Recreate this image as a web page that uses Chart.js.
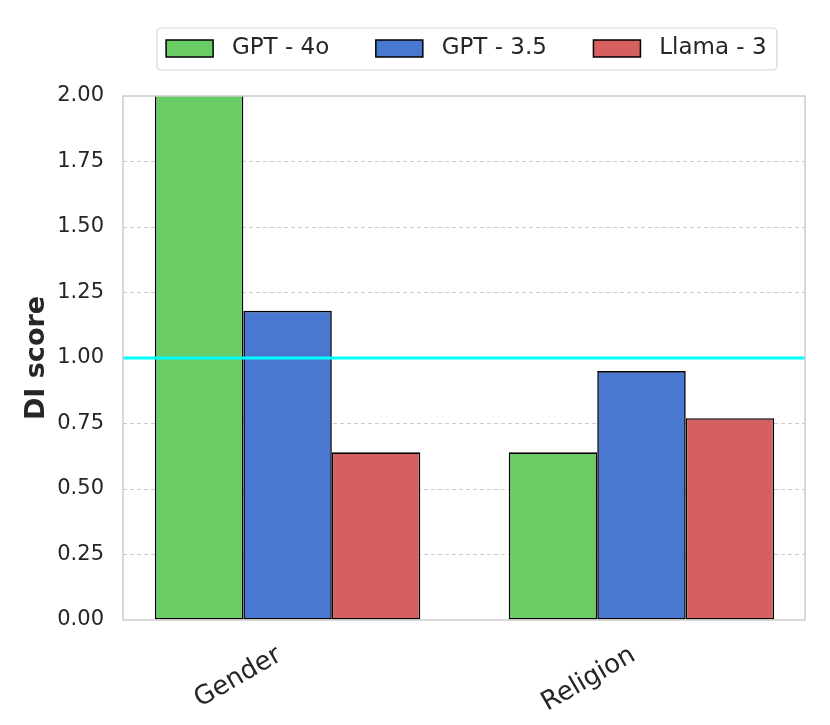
<!DOCTYPE html>
<html>
<head>
<meta charset="utf-8">
<script src="https://cdn.jsdelivr.net/npm/chart.js@4"></script>
<style>
  html, body { margin: 0; padding: 0; background: #ffffff; }
  #wrap { width: 830px; height: 725px; }
</style>
</head>
<body>
<div id="wrap"><canvas id="c" width="830" height="725"></canvas></div>
<script>
const categories = ['Gender', 'Religion'];
const seriesNames = ['GPT - 4o', 'GPT - 3.5', 'Llama - 3'];
const gpt4oValues = [2.05, 0.64];
const gpt35Values = [1.18, 0.95];
const llama3Values = [0.64, 0.77];
const referenceValue = 1.0;
const yTicks = [0, 0.25, 0.5, 0.75, 1.0, 1.25, 1.5, 1.75, 2.0];

const colors = ['#6acc64', '#4878d0', '#d65f5f'];
const textColor = '#262626';
const X_MIN = -0.465, X_MAX = 1.462;

function toPoints(vals) { return vals.map((v, i) => ({ x: i, y: v })); }

const legendFit = {
  id: 'legendFit',
  beforeLayout(chart) {
    const lg = chart.legend;
    if (lg && !lg._patched) {
      const orig = lg.fit;
      lg.fit = function () {
        orig.call(this);
        this.height = 69;
        if (this.lineWidths && this.lineWidths.length) this.lineWidths[0] -= 12;
      };
      lg._patched = true;
    }
  }
};

const framePlugin = {
  id: 'frame',
  afterDatasetsDraw(chart) {
    const { ctx, chartArea: a } = chart;
    ctx.save();
    ctx.strokeStyle = '#cccccc';
    ctx.lineWidth = 1.5;
    ctx.strokeRect(a.left, a.top, a.right - a.left, a.bottom - a.top);
    ctx.restore();
  },
  afterDraw(chart) {
    const lg = chart.legend;
    if (!lg || !lg.legendHitBoxes || !lg.legendHitBoxes.length) return;
    const hb = lg.legendHitBoxes;
    let l = Infinity, r = -Infinity, t = Infinity, b = -Infinity;
    hb.forEach(h => {
      l = Math.min(l, h.left); r = Math.max(r, h.left + h.width);
      t = Math.min(t, h.top); b = Math.max(b, h.top + h.height);
    });
    const x0 = l - 9, x1 = r + 3, y0 = t - 9, y1 = b + 10;
    const ctx = chart.ctx;
    ctx.save();
    ctx.strokeStyle = '#d5d5d5';
    ctx.lineWidth = 1.2;
    ctx.beginPath();
    ctx.roundRect(x0, y0, x1 - x0, y1 - y0, 4);
    ctx.stroke();
    ctx.restore();
  }
};

const barBase = { borderColor: '#000000', borderWidth: 1.6, borderSkipped: false, categoryPercentage: 0.75, barPercentage: 1.0, order: 1 };

new Chart(document.getElementById('c'), {
  type: 'bar',
  data: {
    datasets: [
      Object.assign({ label: seriesNames[0], data: toPoints(gpt4oValues), backgroundColor: colors[0] }, barBase),
      Object.assign({ label: seriesNames[1], data: toPoints(gpt35Values), backgroundColor: colors[1] }, barBase),
      Object.assign({ label: seriesNames[2], data: toPoints(llama3Values), backgroundColor: colors[2] }, barBase),
      {
        type: 'line', label: 'ref',
        data: [{ x: X_MIN, y: referenceValue }, { x: X_MAX, y: referenceValue }],
        borderColor: '#00ffff', borderWidth: 3, pointRadius: 0, order: 0
      }
    ]
  },
  options: {
    responsive: false,
    animation: false,
    devicePixelRatio: 1,
    layout: { padding: { top: 27, left: 17, right: 25, bottom: 0 } },
    plugins: {
      legend: {
        position: 'top',
        fullSize: false,
        labels: {
          font: { family: 'DejaVu Sans', size: 23 },
          color: textColor,
          boxWidth: 47, boxHeight: 17,
          padding: 10,
          generateLabels(chart) {
            const base = Chart.defaults.plugins.legend.labels.generateLabels(chart);
            const items = base
              .filter(it => it.text !== 'ref')
              .sort((a, b) => a.datasetIndex - b.datasetIndex);
            return items.map((it, i) => Object.assign(it, {
              text: ' ' + it.text + (i < items.length - 1 ? '     ' : ' '),
              lineWidth: 1.5, strokeStyle: '#000000'
            }));
          }
        }
      },
      tooltip: { enabled: false }
    },
    scales: {
      x: {
        type: 'linear',
        offset: false,
        min: X_MIN, max: X_MAX,
        afterBuildTicks(scale) { scale.ticks = categories.map((c, i) => ({ value: i })); },
        afterFit(scale) { scale.height = 105; },
        grid: { display: false, drawTicks: false, offset: false },
        border: { display: false },
        ticks: {
          font: { family: 'DejaVu Sans', size: 26 },
          color: textColor,
          minRotation: 30, maxRotation: 30,
          padding: 20,
          labelOffset: -8,
          callback(v) { return categories[v] !== undefined ? categories[v] : ''; }
        }
      },
      y: {
        min: 0, max: 2.0,
        afterBuildTicks(scale) { scale.ticks = yTicks.map(v => ({ value: v })); },
        afterFit(scale) { scale.width = 106; },
        grid: {
          drawTicks: false,
          color: ctx => (ctx.tick && (ctx.tick.value === 0 || ctx.tick.value === 2)) ? 'rgba(0,0,0,0)' : '#cccccc',
          lineWidth: 1
        },
        border: { display: false, dash: [4, 3] },
        ticks: {
          font: { family: 'DejaVu Sans', size: 21 },
          color: textColor,
          padding: 19,
          callback(v) { return v.toFixed(2); }
        },
        title: {
          display: true, text: 'DI score',
          font: { family: 'DejaVu Sans', size: 27, weight: 'bold' },
          color: textColor,
          padding: { top: 4, bottom: 0 }
        }
      }
    }
  },
  plugins: [legendFit, framePlugin]
});
</script>
</body>
</html>
